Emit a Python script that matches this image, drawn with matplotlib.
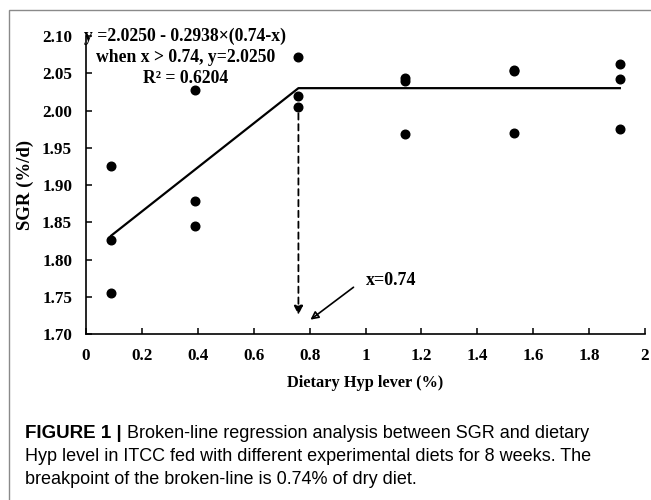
import matplotlib
matplotlib.use("Agg")
import matplotlib.pyplot as plt
from matplotlib.patches import Rectangle

# dietary Hyp level (%) and SGR (%/d)
hyp_x = [0.09, 0.09, 0.09,
         0.39, 0.39, 0.39,
         0.76, 0.76, 0.76,
         1.14, 1.14, 1.14,
         1.53, 1.53, 1.53,
         1.91, 1.91, 1.91]
sgr_y = [1.926, 1.826, 1.755,
         2.027, 1.879, 1.845,
         2.072, 2.020, 2.005,
         2.044, 2.039, 1.969,
         2.055, 2.053, 1.970,
         2.062, 2.042, 1.975]

# broken-line fit as drawn
fit_x = [0.09, 0.76, 1.91]
fit_y = [1.832, 2.030, 2.030]

xticks = [0, 0.2, 0.4, 0.6, 0.8, 1, 1.2, 1.4, 1.6, 1.8, 2]
xtick_labels = ["0", "0.2", "0.4", "0.6", "0.8", "1", "1.2", "1.4", "1.6", "1.8", "2"]
yticks = [1.70, 1.75, 1.80, 1.85, 1.90, 1.95, 2.00, 2.05, 2.10]

eq_lines = ["y =2.0250 - 0.2938\u00d7(0.74-x)",
            "when x > 0.74, y=2.0250",
            "R\u00b2 = 0.6204"]
caption_bold = "FIGURE 1 |"
caption_rest = [" Broken-line regression analysis between SGR and dietary",
                "Hyp level in ITCC fed with different experimental diets for 8 weeks. The",
                "breakpoint of the broken-line is 0.74% of dry diet."]

serif = ["Liberation Serif", "DejaVu Serif"]
sans = ["Liberation Sans", "DejaVu Sans"]

fig = plt.figure(figsize=(6.51, 5.0), dpi=100)

# grey frame around the panel (runs off the right and bottom edges)
fig.patches.append(Rectangle((9 / 651, -0.1), 1.2, (500 - 10) / 500 + 0.1,
                             transform=fig.transFigure, fill=False,
                             edgecolor="#8a8a8a", linewidth=1.0))

ax = fig.add_axes([86 / 651, (500 - 334) / 500, 559 / 651, 298 / 500])
ax.set_xlim(0, 2)
ax.set_ylim(1.70, 2.10)

ax.plot(fit_x, fit_y, color="black", linewidth=1.6, zorder=2)
ax.plot(hyp_x, sgr_y, "o", color="black", markersize=6.2, zorder=3)

# dashed arrow down at the breakpoint
ax.annotate("", xy=(0.76, 1.722), xytext=(0.76, 2.0),
            arrowprops=dict(arrowstyle="-|>", linestyle=(0, (3.5, 2.5)),
                            color="black", lw=1.3, mutation_scale=13))
# pointer to x=0.74
ax.annotate("", xy=(0.795, 1.717), xytext=(0.965, 1.765),
            arrowprops=dict(arrowstyle="-|>", color="black", lw=1.2,
                            mutation_scale=12, fill=False))
ax.text(1.0, 1.772, "x=0.74", family=serif, fontweight="bold",
        fontsize=13, ha="left", va="center")

for i, line in enumerate(eq_lines):
    ax.text(0.355, 2.100 - i * 0.0285, line, family=serif, fontweight="bold",
            fontsize=12.7, ha="center", va="center")

for side in ["top", "right"]:
    ax.spines[side].set_visible(False)
for side in ["left", "bottom"]:
    ax.spines[side].set_linewidth(1.2)

ax.set_xticks(xticks)
ax.set_xticklabels(xtick_labels)
ax.set_yticks(yticks)
ax.set_yticklabels([f"{v:.2f}" for v in yticks])
ax.tick_params(direction="in", length=4, width=1.1, labelsize=12.3)
ax.tick_params(axis="x", pad=10)
ax.tick_params(axis="y", pad=10)
for lab in ax.get_xticklabels() + ax.get_yticklabels():
    lab.set_family(serif)
    lab.set_fontweight("bold")

ax.set_xlabel("Dietary Hyp lever (%)", family=serif, fontweight="bold",
              fontsize=11.8, labelpad=8)
ax.set_ylabel("SGR (%/d)", family=serif, fontweight="bold",
              fontsize=13.5, labelpad=6)

# caption: bold lead-in, then the regular text right after it
t0 = fig.text(25 / 651, 1 - 433 / 500, caption_bold, family=sans,
              fontweight="bold", fontsize=13.5, va="center", ha="left")
ax.annotate(caption_rest[0], xy=(1.0, 0.5), xycoords=t0, va="center",
            ha="left", family=sans, fontsize=13, annotation_clip=False)
for i, line in enumerate(caption_rest[1:], start=1):
    fig.text(25 / 651, 1 - (433 + 23.5 * i) / 500, line, family=sans,
             fontsize=13, va="center", ha="left")

fig.savefig("out.png", dpi=100)
